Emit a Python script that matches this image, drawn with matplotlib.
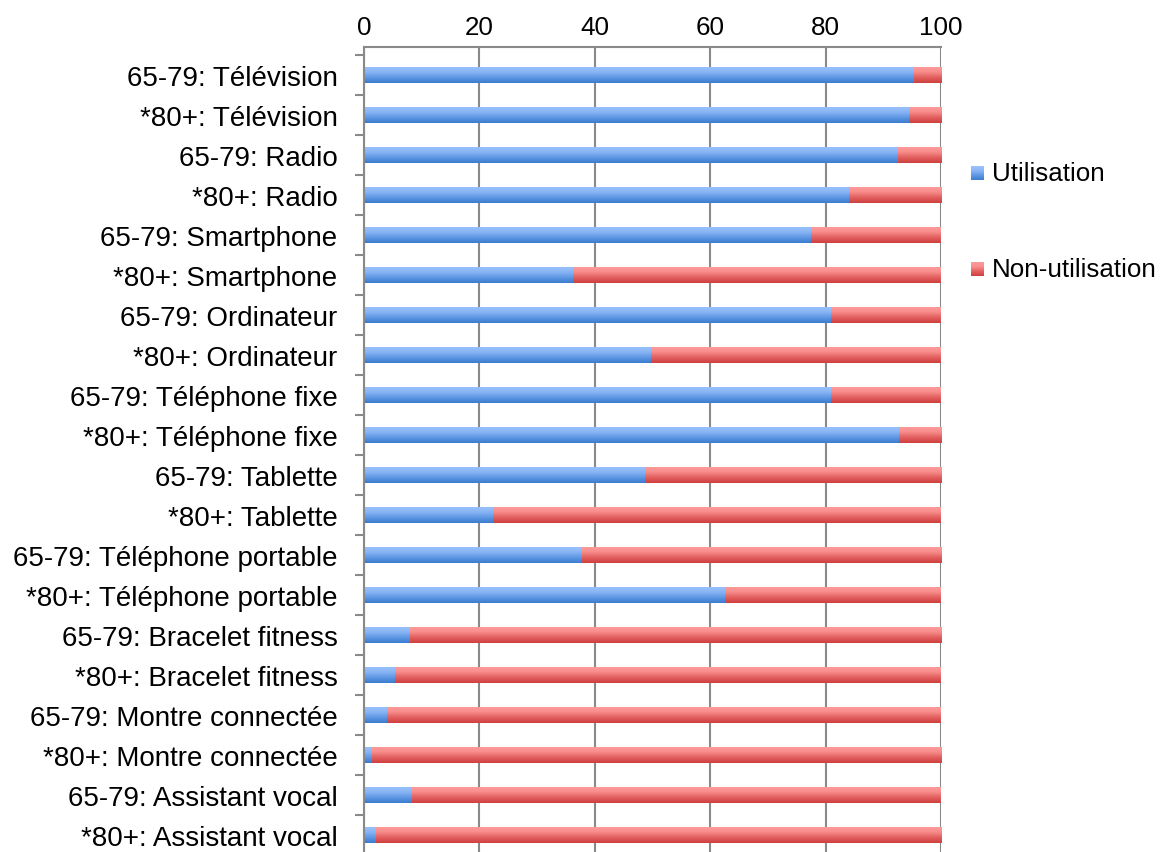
import numpy as np
import matplotlib
matplotlib.use("Agg")
import matplotlib.pyplot as plt
from matplotlib.colors import LinearSegmentedColormap

plt.rcParams['font.family'] = ['Liberation Sans', 'DejaVu Sans']

categories = [
    "65-79: Télévision", "*80+: Télévision",
    "65-79: Radio", "*80+: Radio",
    "65-79: Smartphone", "*80+: Smartphone",
    "65-79: Ordinateur", "*80+: Ordinateur",
    "65-79: Téléphone fixe", "*80+: Téléphone fixe",
    "65-79: Tablette", "*80+: Tablette",
    "65-79: Téléphone portable", "*80+: Téléphone portable",
    "65-79: Bracelet fitness", "*80+: Bracelet fitness",
    "65-79: Montre connectée", "*80+: Montre connectée",
    "65-79: Assistant vocal", "*80+: Assistant vocal",
]
utilisation = [95.3, 94.4, 92.5, 84.0, 77.5, 36.3, 81.0, 49.8, 81.0, 92.7,
               48.7, 22.4, 37.7, 62.6, 7.9, 5.4, 4.0, 1.3, 8.4, 2.0]
non_utilisation = [100 - u for u in utilisation]
series_names = ["Utilisation", "Non-utilisation"]
x_ticks = [0, 20, 40, 60, 80, 100]

GRID = "#898989"

# vertical gradients: light at the top edge, darker at the bottom edge
blue_cmap = LinearSegmentedColormap.from_list(
    "blue_grad", ["#9CC3FF", "#8AB5F5", "#5F98E3", "#3C7CCF"])
red_cmap = LinearSegmentedColormap.from_list(
    "red_grad", ["#FF9C9C", "#F78E8D", "#E2605F", "#CF4040"])

W, H = 1161, 853
fig = plt.figure(figsize=(W / 100, H / 100), dpi=100)
ax = fig.add_axes([364 / W, -3 / H, 577 / W, 808 / H])

y = np.arange(len(categories))
bar_h = 0.42
bars_u = ax.barh(y, utilisation, height=bar_h, color="#6FA0E8", linewidth=0, zorder=3)
bars_n = ax.barh(y, non_utilisation, left=utilisation, height=bar_h,
                 color="#E86A6A", linewidth=0, zorder=3)

grad = np.linspace(0, 1, 64).reshape(-1, 1)


def fill_gradient(bars, cmap):
    for patch in bars:
        x0, y0 = patch.get_x(), patch.get_y()
        w, h = patch.get_width(), patch.get_height()
        if w <= 0:
            continue
        im = ax.imshow(grad, cmap=cmap, aspect="auto", origin="upper",
                       extent=(x0, x0 + w, y0 + h, y0), zorder=4,
                       interpolation="bilinear")
        im.set_clip_path(patch)


fill_gradient(bars_u, blue_cmap)
fill_gradient(bars_n, red_cmap)

ax.set_xlim(0, 100)
ax.set_ylim(len(categories) - 0.5, -0.7)

ax.set_yticks(y)
ax.set_yticklabels(categories, fontsize=20)
ax.set_yticks(np.arange(len(categories) + 1) - 0.5, minor=True)
ax.tick_params(axis="y", which="major", length=0, pad=19)
ax.tick_params(axis="y", which="minor", length=6.5, width=1.5, color=GRID,
               direction="out")

ax.xaxis.tick_top()
ax.set_xticks(x_ticks)
ax.set_xticklabels([str(t) for t in x_ticks], fontsize=18.7)
ax.tick_params(axis="x", length=0, pad=5.5)

ax.grid(axis="x", color=GRID, linewidth=1.5, zorder=0)
ax.set_axisbelow(True)
for side in ["right", "bottom"]:
    ax.spines[side].set_visible(False)
for side in ["left", "top"]:
    ax.spines[side].set_color(GRID)
    ax.spines[side].set_linewidth(1.5)
    ax.spines[side].set_zorder(5)

# legend with gradient squares
legend_items = [(series_names[0], blue_cmap, 174), (series_names[1], red_cmap, 270)]
for name, cmap, ypix in legend_items:
    sq = fig.add_axes([971 / W, 1 - (ypix + 7) / H, 13 / W, 14 / H])
    sq.imshow(grad, cmap=cmap, aspect="auto", origin="upper")
    sq.set_axis_off()
    fig.text(992 / W, 1 - ypix / H, name, fontsize=18.7, va="center", ha="left")

fig.savefig("out.png", dpi=100)
